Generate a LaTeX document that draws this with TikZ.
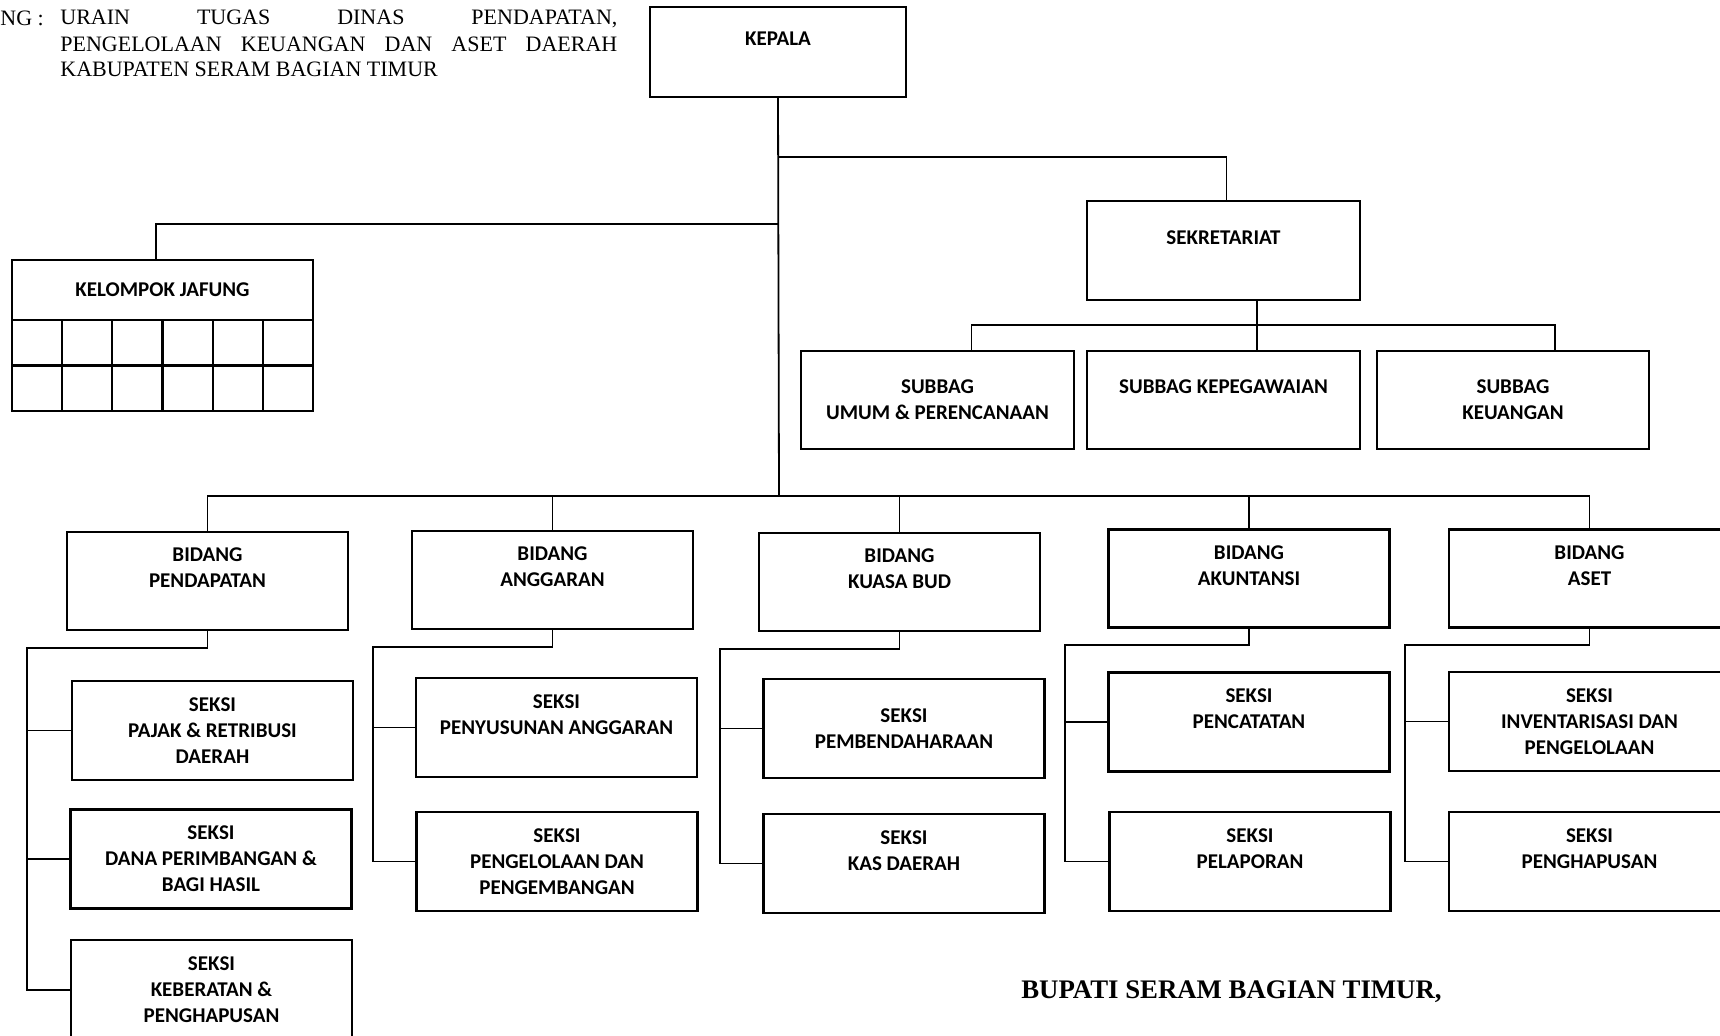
\documentclass[tikz,border=0pt]{standalone}
\usepackage{fontspec}
\setmainfont{Liberation Serif}
\newfontfamily\orgfont{Carlito}[BoldFont=Carlito Bold]

\begin{document}
\begin{tikzpicture}[x=0.5pt, y=-0.5pt,
  unit/.style={draw, line width=1.1pt, inner sep=0pt, align=center,
    font=\orgfont\bfseries\fontsize{10.5}{13}\selectfont,
    minimum width=140.5pt, minimum height=49.5pt},
  link/.style={line width=0.9pt},
  head/.style={inner sep=0pt, anchor=west, font=\fontsize{11}{13}\selectfont}]
\useasboundingbox (0,0) rectangle (1720,1035);

% heading
\node[head] (ng) at (0,18.5) {NG :};
\node[head] (hd1) at (60,18.5) {\makebox[278.5pt][s]{URAIN TUGAS DINAS PENDAPATAN,}};
\node[head] (hd2) at (60,44) {\makebox[278.5pt][s]{PENGELOLAAN KEUANGAN DAN ASET DAERAH}};
\node[head] (hd3) at (60,69) {KABUPATEN SERAM BAGIAN TIMUR};

% top
\node[unit, minimum width=128pt, minimum height=45pt] (kepala) at (778,52) {KEPALA\\\mbox{}};
\node[unit, minimum width=136.5pt] (sekretariat) at (1223.5,250.5) {SEKRETARIAT\\\mbox{}};
\node[unit, minimum width=150.5pt, minimum height=30pt] (jafung) at (162.5,290) {KELOMPOK JAFUNG};
\foreach \c in {0,...,5}
  \foreach \r in {0,1}
    \draw[line width=1.1pt] (12+\c*50.17, 320+\r*45.5) rectangle ++(50.17,45.5);

\node[unit, minimum width=136.5pt, minimum height=49pt] (umum) at (937.5,400) {SUBBAG\\UMUM \& PERENCANAAN};
\node[unit, minimum width=136.5pt, minimum height=49pt] (kepeg) at (1223.5,400) {SUBBAG KEPEGAWAIAN\\\mbox{}};
\node[unit, minimum width=136pt, minimum height=49pt] (keuangan) at (1513,400) {SUBBAG\\KEUANGAN};

% bidang
\node[unit, minimum height=49pt] (pendapatan) at (207.5,581) {BIDANG\\PENDAPATAN\\\mbox{}};
\node[unit, minimum height=49pt] (anggaran) at (552.5,580) {BIDANG\\ANGGARAN\\\mbox{}};
\node[unit, minimum height=49pt] (kuasa) at (899.5,582) {BIDANG\\KUASA BUD\\\mbox{}};
\node[unit, minimum height=49pt] (akuntansi) at (1249,578.5) {BIDANG\\AKUNTANSI\\\mbox{}};
\node[unit, minimum height=49pt] (aset) at (1589.5,578.5) {BIDANG\\ASET\\\mbox{}};

% seksi
\node[unit] (p1) at (212.5,730.5) {SEKSI\\PAJAK \& RETRIBUSI\\DAERAH};
\node[unit] (p2) at (211,859) {SEKSI\\DANA PERIMBANGAN \&\\BAGI HASIL};
\node[unit, minimum height=50pt] (p3) at (211.5,990) {SEKSI\\KEBERATAN \&\\PENGHAPUSAN};
\node[unit] (g1) at (556.5,727.5) {SEKSI\\PENYUSUNAN ANGGARAN\\\mbox{}};
\node[unit] (g2) at (557,861.5) {SEKSI\\PENGELOLAAN DAN\\PENGEMBANGAN};
\node[unit] (k1) at (904,728.5) {SEKSI\\PEMBENDAHARAAN};
\node[unit] (k2) at (904,863.5) {SEKSI\\KAS DAERAH\\\mbox{}};
\node[unit] (a1) at (1249,722) {SEKSI\\PENCATATAN\\\mbox{}};
\node[unit] (a2) at (1250,861.5) {SEKSI\\PELAPORAN\\\mbox{}};
\node[unit] (s1) at (1589.5,721.5) {SEKSI\\INVENTARISASI DAN\\PENGELOLAAN};
\node[unit] (s2) at (1589.5,861.5) {SEKSI\\PENGHAPUSAN\\\mbox{}};

\node[inner sep=0pt, font=\bfseries\fontsize{13.4}{16}\selectfont] (bupati) at (1231.5,992) {BUPATI SERAM BAGIAN TIMUR,};

% lines
\coordinate (hub) at (779,496);
\coordinate (k1top) at (778,157);
\coordinate (k2top) at (778,224);
\draw[link] (kepala.south) -- (hub);
\draw[link] (k1top) -| ([xshift=1.5pt]sekretariat.north);
\draw[link] (k2top) -| ([xshift=-3.3pt]jafung.north);

\coordinate (sb) at (1257,325);
\draw[link] (sekretariat.south -| sb) -- (sb);
\draw[link] (sb) -| ([xshift=17pt]umum.north);
\draw[link] (sb) -| ([xshift=21pt]keuangan.north);
\draw[link] (sb) -- (sb |- kepeg.north);

\foreach \b in {pendapatan,anggaran,kuasa,akuntansi,aset}
  \draw[link] (hub) -| (\b.north);

\coordinate (pbus) at (27,648);
\draw[link] (pendapatan.south) |- (pbus) |- (p3.west);
\draw[link] (pbus |- p1.west) -- (p1.west);
\draw[link] (pbus |- p2.west) -- (p2.west);

\coordinate (gbus) at (373,647);
\draw[link] (anggaran.south) |- (gbus) |- (g2.west);
\draw[link] (gbus |- g1.west) -- (g1.west);

\coordinate (kbus) at (720,649);
\draw[link] (kuasa.south) |- (kbus) |- (k2.west);
\draw[link] (kbus |- k1.west) -- (k1.west);

\coordinate (abus) at (1065,645);
\draw[link] (akuntansi.south) |- (abus) |- (a2.west);
\draw[link] (abus |- a1.west) -- (a1.west);

\coordinate (sbus) at (1405,645);
\draw[link] (aset.south) |- (sbus) |- (s2.west);
\draw[link] (sbus |- s1.west) -- (s1.west);
\end{tikzpicture}
\end{document}
